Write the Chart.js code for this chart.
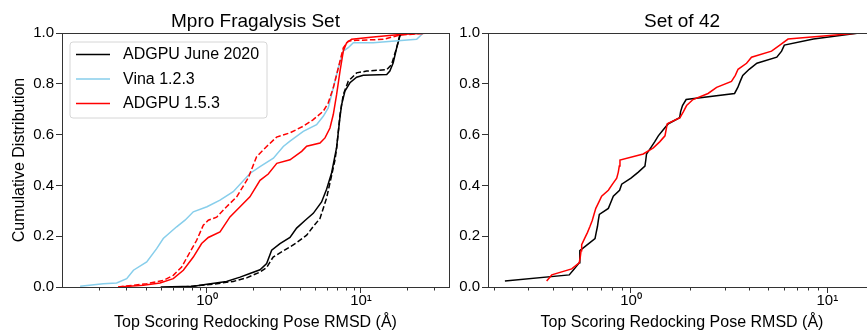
<!DOCTYPE html>
<html><head><meta charset="utf-8">
<script src="https://cdn.jsdelivr.net/npm/chart.js@4.4.1/dist/chart.umd.min.js"></script>
<style>
html,body{margin:0;padding:0;background:#fff;overflow:hidden;width:867px;height:333px;}
#c1{position:absolute;left:0;top:0;}
#c2{position:absolute;left:440px;top:0;}
</style></head><body>
<canvas id="c1" width="455" height="333"></canvas>
<canvas id="c2" width="440" height="333"></canvas>
<script>
// ---------- text ----------
const titleLeft = 'Mpro Fragalysis Set';
const titleRight = 'Set of 42';
const xLabel = 'Top Scoring Redocking Pose RMSD (Å)';
const yLabel = 'Cumulative Distribution';
const legendNames = ['ADGPU June 2020', 'Vina 1.2.3', 'ADGPU 1.5.3'];

// ---------- ticks ----------
const yTickValues = [0, 0.2, 0.4, 0.6, 0.8, 1.0];
const majorX = [1, 10];
const majorXLabels = ['10⁰', '10¹'];
const minorX = [0.2, 0.3, 0.4, 0.5, 0.6, 0.7, 0.8, 0.9, 2, 3, 4, 5, 6, 7, 8, 9, 20, 30];

// ---------- Mpro Fragalysis Set (left) ----------
const juneX = [0.50, 0.82, 1.0, 1.34, 1.64, 1.90, 2.21, 2.44, 2.63, 2.98, 3.46, 3.82, 4.33, 4.90, 5.55, 5.98, 6.45, 6.95, 7.31, 7.49, 7.87, 8.48, 9.37, 10.35, 14.7, 15.4, 16.2, 17.06, 17.9, 18.8];
const juneY = [0.0, 0.003, 0.011, 0.022, 0.039, 0.053, 0.068, 0.092, 0.145, 0.171, 0.195, 0.232, 0.262, 0.29, 0.335, 0.385, 0.45, 0.55, 0.67, 0.718, 0.771, 0.804, 0.826, 0.834, 0.837, 0.85, 0.883, 0.942, 0.988, 1.0];

const juneDashX = [0.70, 1.10, 1.48, 1.81, 2.21, 2.44, 2.69, 3.13, 3.46, 3.82, 4.44, 4.90, 5.42, 5.98, 6.45, 6.78, 6.95, 7.31, 7.68, 8.27, 9.37, 10.9, 14.7, 15.8, 17.06, 17.9, 18.8];
const juneDashY = [0.0, 0.011, 0.022, 0.036, 0.059, 0.077, 0.118, 0.142, 0.158, 0.175, 0.204, 0.238, 0.27, 0.35, 0.44, 0.5, 0.547, 0.679, 0.758, 0.81, 0.843, 0.85, 0.856, 0.876, 0.942, 0.994, 1.0];

const vinaX = [0.15, 0.212, 0.259, 0.301, 0.333, 0.406, 0.471, 0.52, 0.635, 0.72, 0.815, 1.0, 1.215, 1.48, 1.9, 2.21, 2.70, 3.13, 3.46, 4.22, 5.15, 5.69, 6.13, 6.61, 7.13, 7.68, 8.27, 8.92, 12.0, 23.0, 24.8, 25.5];
const vinaY = [0.003, 0.013, 0.016, 0.033, 0.066, 0.099, 0.151, 0.191, 0.237, 0.263, 0.296, 0.316, 0.342, 0.375, 0.447, 0.474, 0.507, 0.553, 0.574, 0.613, 0.639, 0.672, 0.705, 0.784, 0.863, 0.929, 0.942, 0.962, 0.962, 0.975, 0.994, 1.0];

const v153X = [0.265, 0.386, 0.495, 0.604, 0.702, 0.815, 0.923, 1.02, 1.215, 1.41, 1.64, 1.9, 2.21, 2.5, 2.84, 3.46, 4.12, 4.44, 5.42, 5.84, 6.29, 6.61, 6.95, 7.31, 7.68, 8.07, 8.70, 12.0, 17.9, 28.1];
const v153Y = [0.0, 0.007, 0.016, 0.033, 0.066, 0.118, 0.171, 0.195, 0.217, 0.276, 0.316, 0.355, 0.42, 0.445, 0.487, 0.501, 0.534, 0.554, 0.567, 0.587, 0.626, 0.679, 0.758, 0.85, 0.929, 0.962, 0.975, 0.984, 0.994, 1.0];

const v153DashX = [0.265, 0.406, 0.52, 0.604, 0.685, 0.776, 0.857, 0.946, 1.02, 1.156, 1.34, 1.56, 1.855, 2.10, 2.44, 2.83, 3.46, 4.22, 4.90, 5.69, 6.13, 6.61, 7.13, 7.68, 8.27, 9.37, 13.96, 17.9, 28.1];
const v153DashY = [0.0, 0.013, 0.026, 0.046, 0.079, 0.138, 0.184, 0.243, 0.263, 0.275, 0.316, 0.355, 0.43, 0.513, 0.553, 0.59, 0.607, 0.633, 0.659, 0.692, 0.725, 0.784, 0.863, 0.942, 0.968, 0.971, 0.975, 0.992, 1.0];

// ---------- Set of 42 (right): sorted RMSD per ligand ----------
const set42June = [0.228, 0.485, 0.515, 0.545, 0.548, 0.55, 0.60, 0.656, 0.665, 0.675, 0.682, 0.69, 0.767, 0.79, 0.813, 0.875, 0.897, 1.0, 1.09, 1.178, 1.19, 1.2, 1.26, 1.32, 1.378, 1.46, 1.55, 1.77, 1.79, 1.83, 1.91, 3.37, 3.5, 3.6, 3.71, 4.0, 4.38, 5.53, 5.85, 6.04, 8.5, 14.5];
const set42V153 = [0.372, 0.395, 0.499, 0.545, 0.552, 0.557, 0.561, 0.58, 0.60, 0.618, 0.635, 0.648, 0.662, 0.685, 0.709, 0.767, 0.805, 0.846, 0.862, 0.872, 0.879, 1.155, 1.30, 1.40, 1.49, 1.51, 1.53, 1.777, 1.85, 1.92, 2.07, 2.47, 2.73, 3.25, 3.40, 3.51, 3.88, 4.11, 5.2, 5.73, 6.31, 14.5];

// ---------- helpers ----------
const FONT = "'Liberation Sans', Arial, Helvetica, sans-serif";
Chart.defaults.font.family = FONT;
Chart.defaults.color = '#000';
const COL = {black: '#000000', blue: '#87CEEB', red: '#FF0000'};
const SPINE = '#333';

const pts = (xs, ys) => xs.map((x, i) => ({x: x, y: ys[i]}));
const ecdf = (xs) => xs.map((x, i) => ({x: x, y: (i + 1) / xs.length}));

function ds(data, color, dashed, order, legendLabel) {
  return {
    data: data, borderColor: color, backgroundColor: color, borderWidth: 1.5,
    borderDash: dashed ? [5.5, 2.5] : [], showLine: true, pointRadius: 0,
    tension: 0, fill: false, order: order, legendLabel: legendLabel
  };
}

const framePlugin = {
  id: 'frame',
  afterDraw(chart, args, opts) {
    const {ctx, chartArea: a, scales} = chart;
    ctx.save();
    ctx.strokeStyle = SPINE; ctx.lineWidth = 1;
    const L = Math.round(a.left) + 0.5, T = Math.round(a.top) + 0.5;
    ctx.strokeRect(L, T, Math.round(a.right) - Math.round(a.left), Math.round(a.bottom) - Math.round(a.top));
    // minor x ticks
    const xs = scales.x;
    ctx.beginPath();
    minorX.forEach(v => {
      if (v > xs.min && v < xs.max) {
        const p = Math.round(xs.getPixelForValue(v)) + 0.5;
        ctx.moveTo(p, a.bottom); ctx.lineTo(p, a.bottom + 3.5);
      }
    });
    ctx.stroke();
    // title
    ctx.fillStyle = '#000';
    ctx.font = '19px ' + FONT;
    ctx.textAlign = 'center'; ctx.textBaseline = 'alphabetic';
    ctx.fillText(opts.title, (a.left + a.right) / 2, a.top - 6);
    // legend
    if (opts.legend) {
      const items = chart.data.datasets.filter(d => d.legendLabel);
      const bx = a.left + 8, by = a.top + 9, bw = 197, bh = 76, r = 3;
      ctx.beginPath();
      ctx.moveTo(bx + r, by); ctx.lineTo(bx + bw - r, by); ctx.arcTo(bx + bw, by, bx + bw, by + r, r);
      ctx.lineTo(bx + bw, by + bh - r); ctx.arcTo(bx + bw, by + bh, bx + bw - r, by + bh, r);
      ctx.lineTo(bx + r, by + bh); ctx.arcTo(bx, by + bh, bx, by + bh - r, r);
      ctx.lineTo(bx, by + r); ctx.arcTo(bx, by, bx + r, by, r); ctx.closePath();
      ctx.fillStyle = 'rgba(255,255,255,0.8)'; ctx.fill();
      ctx.strokeStyle = '#d6d6d6'; ctx.lineWidth = 1; ctx.stroke();
      ctx.font = '16px ' + FONT; ctx.textAlign = 'left'; ctx.textBaseline = 'middle';
      items.forEach((d, i) => {
        const y = by + 12.5 + i * 24.5;
        ctx.beginPath(); ctx.setLineDash([]);
        ctx.strokeStyle = d.borderColor; ctx.lineWidth = 1.5;
        ctx.moveTo(bx + 6, y); ctx.lineTo(bx + 40, y); ctx.stroke();
        ctx.fillStyle = '#000';
        ctx.fillText(d.legendLabel, bx + 53, y + 0.5);
      });
    }
    ctx.restore();
  }
};

function makeOptions(xmin, xmax, yWidth, padRight, title, legend, showYTitle) {
  return {
    responsive: false, animation: false, events: [],
    layout: {padding: {left: 0, right: padRight, top: 33, bottom: 0}},
    plugins: {legend: {display: false}, tooltip: {enabled: false}, title: {display: false},
      frame: {title: title, legend: legend}},
    scales: {
      x: {
        type: 'logarithmic', min: xmin, max: xmax,
        afterBuildTicks: (s) => { s.ticks = majorX.concat(minorX).filter(v => v >= xmin && v <= xmax).sort((p, q) => p - q).map(v => ({value: v, major: majorX.includes(v)})); },
        afterFit: (s) => { s.height = 46; },
        border: {display: false},
        grid: {display: true, drawOnChartArea: false, drawTicks: true, tickLength: 6, tickWidth: 1,
          tickColor: (c) => (c.tick && majorX.includes(c.tick.value)) ? SPINE : 'rgba(0,0,0,0)'},
        ticks: {autoSkip: false, maxRotation: 0, padding: 0, font: {size: 15, lineHeight: 1.0}, color: '#000',
          callback: (v) => { const k = majorX.indexOf(v); return k >= 0 ? majorXLabels[k] : ''; }},
        title: {display: true, text: xLabel, font: {size: 16}, color: '#000', padding: {top: 0, bottom: 1}}
      },
      y: {
        type: 'linear', min: 0, max: 1,
        afterBuildTicks: (s) => { s.ticks = yTickValues.map(v => ({value: v})); },
        afterFit: (s) => { s.width = yWidth; },
        border: {display: false},
        grid: {display: true, drawOnChartArea: false, drawTicks: true, tickLength: 6, tickWidth: 1, tickColor: SPINE},
        ticks: {padding: 2, font: {size: 15}, color: '#000', callback: (v) => Number(v).toFixed(1)},
        title: {display: showYTitle, text: yLabel, font: {size: 16}, color: '#000', padding: {top: 10, bottom: 0}}
      }
    }
  };
}

new Chart(document.getElementById('c1'), {
  type: 'scatter',
  data: {datasets: [
    ds(pts(juneX, juneY), COL.black, false, 5, legendNames[0]),
    ds(pts(vinaX, vinaY), COL.blue, false, 4, legendNames[1]),
    ds(pts(v153X, v153Y), COL.red, false, 1, legendNames[2]),
    ds(pts(juneDashX, juneDashY), COL.black, true, 3, null),
    ds(pts(v153DashX, v153DashY), COL.red, true, 2, null)
  ]},
  options: makeOptions(0.1144, 37.3, 62, 6, titleLeft, true, true),
  plugins: [framePlugin]
});

new Chart(document.getElementById('c2'), {
  type: 'scatter',
  data: {datasets: [
    ds(ecdf(set42June), COL.black, false, 2, null),
    ds(ecdf(set42V153), COL.red, false, 1, null)
  ]},
  options: makeOptions(0.187, 17.7, 48, 4, titleRight, false, false),
  plugins: [framePlugin]
});
</script>
</body></html>
